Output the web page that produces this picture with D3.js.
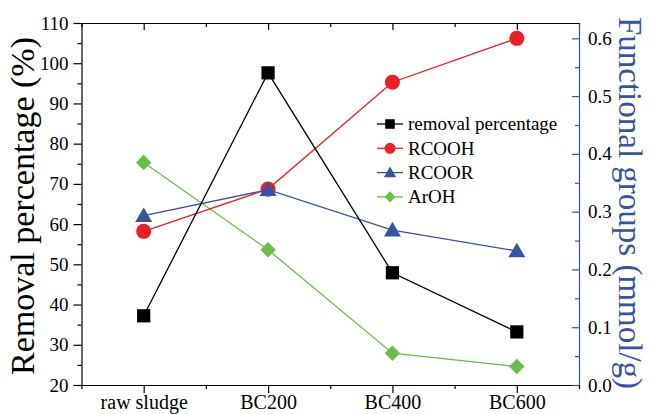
<!DOCTYPE html>
<html>
<head>
<meta charset="utf-8">
<script src="https://cdn.jsdelivr.net/npm/d3@7"></script>
<style>
  html, body { margin: 0; padding: 0; background: #fff; }
  svg { display: block; }
  text { font-family: "Liberation Serif", "Times New Roman", serif; }
</style>
</head>
<body>
<svg id="chart" width="651" height="414"></svg>
<script>
// ---- data ----
const categories = ["raw sludge", "BC200", "BC400", "BC600"];
const removalPercentage = [37.2, 97.6, 47.9, 33.2];   // left axis (%)
const rcooh = [0.266, 0.339, 0.524, 0.600];           // right axis (mmol/g)
const rcoor = [0.293, 0.338, 0.268, 0.232];
const aroh  = [0.385, 0.234, 0.055, 0.032];
const leftTicks  = [20, 30, 40, 50, 60, 70, 80, 90, 100, 110];
const rightTicks = [0.0, 0.1, 0.2, 0.3, 0.4, 0.5, 0.6];
const seriesNames = ["removal percentage", "RCOOH", "RCOOR", "ArOH"];

// ---- layout ----
const L = 81.5, R = 579, T = 23, B = 385;
const svg = d3.select("#chart");

const x  = d3.scaleLinear().domain([-0.5, 3.5]).range([L, R]);
const yL = d3.scaleLinear().domain([20, 110]).range([B, T]);
const yR = d3.scaleLinear().domain([0, 0.6]).range([B, 38.3]);
const yRtop = yR.invert(T);
yR.domain([0, yRtop]).range([B, T]);

const blue = "#3953a4", red = "#ed1f24", green = "#6abd45", black = "#000";
const tickFont = 19;

// minor tick values
const leftMinor = d3.range(25, 110, 10);
const rightMinor = d3.range(0.05, 0.6, 0.1);
const xMinor = d3.range(-0.5, 3.6, 1);

// left axis
const gL = svg.append("g").attr("transform", `translate(${L},0)`)
  .call(d3.axisLeft(yL).tickValues(leftTicks).tickSizeInner(8).tickSizeOuter(0).tickPadding(5));
svg.append("g").attr("transform", `translate(${L},0)`)
  .call(d3.axisLeft(yL).tickValues(leftMinor).tickSizeInner(4).tickSizeOuter(0).tickFormat(""))
  .select(".domain").remove();
gL.selectAll("text").attr("font-size", tickFont).attr("fill", black)
  .style("font-family", '"Liberation Serif", "Times New Roman", serif');

// bottom axis
const gB = svg.append("g").attr("transform", `translate(0,${B})`)
  .call(d3.axisBottom(x).tickValues([0, 1, 2, 3]).tickFormat(i => categories[i])
        .tickSizeInner(8).tickSizeOuter(0));
svg.append("g").attr("transform", `translate(0,${B})`)
  .call(d3.axisBottom(x).tickValues(xMinor).tickSizeInner(4).tickSizeOuter(0).tickFormat(""))
  .select(".domain").remove();
gB.selectAll("text").attr("font-size", 20).attr("dy", 0).attr("y", 23.5)
  .style("font-family", '"Liberation Serif", "Times New Roman", serif');

// top axis (ticks inward, no labels)
svg.append("g").attr("transform", `translate(0,${T})`)
  .call(d3.axisTop(x).tickValues([0, 1, 2, 3]).tickSizeInner(-7).tickSizeOuter(0).tickFormat(""));
svg.append("g").attr("transform", `translate(0,${T})`)
  .call(d3.axisTop(x).tickValues(xMinor).tickSizeInner(-4).tickSizeOuter(0).tickFormat(""))
  .select(".domain").remove();

// right axis (blue, ticks inward)
const gR = svg.append("g").attr("transform", `translate(${R},0)`)
  .call(d3.axisRight(yR).tickValues(rightTicks).tickFormat(d3.format(".1f"))
        .tickSizeInner(-7).tickSizeOuter(0).tickPadding(9));
const gRm = svg.append("g").attr("transform", `translate(${R},0)`)
  .call(d3.axisRight(yR).tickValues(rightMinor).tickSizeInner(-4).tickSizeOuter(0).tickFormat(""));
gRm.select(".domain").remove();
gR.selectAll("line").attr("stroke", blue);
gRm.selectAll("line").attr("stroke", blue);
gR.select(".domain").attr("stroke", blue);
gR.selectAll("text").attr("font-size", tickFont).attr("fill", black)
  .style("font-family", '"Liberation Serif", "Times New Roman", serif');

svg.selectAll(".domain, .tick line").attr("stroke-width", 1.2);
gR.raise();

// axis titles
svg.append("text")
  .attr("transform", `translate(34,${(T + B) / 2 + 2}) rotate(-90)`)
  .attr("text-anchor", "middle").attr("font-size", 34).attr("fill", black)
  .text("Removal percentage (%)");
svg.append("text")
  .attr("transform", `translate(619,${(T + B) / 2 - 1}) rotate(90)`)
  .attr("text-anchor", "middle").attr("font-size", 33).attr("fill", blue)
  .text("Functional groups (mmol/g)");

// ---- series ----
const series = [
  { name: seriesNames[0], values: removalPercentage, y: yL, color: black, shape: "square" },
  { name: seriesNames[1], values: rcooh, y: yR, color: red, shape: "circle" },
  { name: seriesNames[2], values: rcoor, y: yR, color: blue, shape: "triangle" },
  { name: seriesNames[3], values: aroh, y: yR, color: green, shape: "diamond" },
];

function symbolPath(shape, scale) {
  const s = scale || 1;
  const sizes = { square: 175, circle: 180, triangle: 125, diamond: 118 };
  const types = { square: d3.symbolSquare, circle: d3.symbolCircle,
                  triangle: d3.symbolTriangle, diamond: d3.symbolSquare };
  return d3.symbol().type(types[shape]).size(sizes[shape] * s * s)();
}
function rot(shape) { return shape === "diamond" ? " rotate(45)" : ""; }

// draw order: ArOH, RCOOR, RCOOH, removal
const drawOrder = [3, 1, 2, 0];
drawOrder.forEach(k => {
  const s = series[k];
  const line = d3.line().x((d, i) => x(i)).y(d => s.y(d));
  svg.append("path").datum(s.values).attr("d", line)
    .attr("fill", "none").attr("stroke", s.color).attr("stroke-width", 1.3);
  svg.append("g").selectAll("path").data(s.values).join("path")
    .attr("transform", (d, i) => {
      let dy = s.shape === "triangle" ? 1.5 : 0;
      return `translate(${x(i)},${s.y(d) + dy})` + rot(s.shape);
    })
    .attr("d", symbolPath(s.shape)).attr("fill", s.color);
});

// ---- legend ----
const legX = 377, legY0 = 124, legDY = 24.3;
series.forEach((s, k) => {
  const g = svg.append("g").attr("transform", `translate(${legX},${legY0 + k * legDY})`);
  g.append("line").attr("x1", 0).attr("x2", 26).attr("y1", 0).attr("y2", 0)
    .attr("stroke", s.color).attr("stroke-width", 1.3);
  g.append("path").attr("transform", `translate(13,${s.shape === "triangle" ? 1 : 0})` + rot(s.shape))
    .attr("d", symbolPath(s.shape, 0.72)).attr("fill", s.color);
  g.append("text").attr("x", 31).attr("y", 0).attr("dy", "0.33em")
    .attr("font-size", 19).attr("fill", black).text(s.name);
});
</script>
</body>
</html>
